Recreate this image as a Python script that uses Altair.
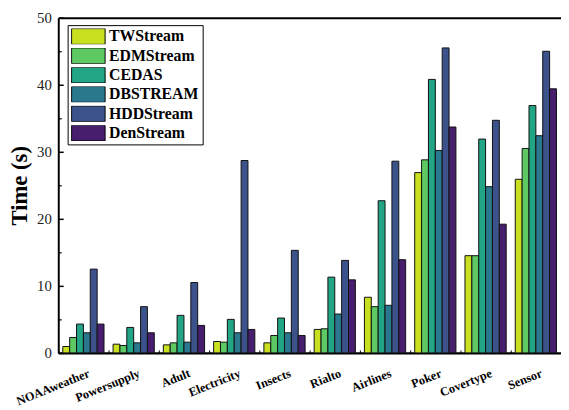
import altair as alt
import pandas as pd

datasets = ["NOAAweather", "Powersupply", "Adult", "Electricity", "Insects",
            "Rialto", "Airlines", "Poker", "Covertype", "Sensor"]
methods = ["TWStream", "EDMStream", "CEDAS", "DBSTREAM", "HDDStream", "DenStream"]

tw = [0.95, 1.3, 1.2, 1.7, 1.5, 3.5, 8.3, 26.9, 14.5, 25.9]
edm = [2.3, 1.1, 1.5, 1.6, 2.6, 3.6, 6.9, 28.8, 14.5, 30.5]
cedas = [4.3, 3.8, 5.6, 5.0, 5.2, 11.3, 22.7, 40.8, 31.9, 36.9]
dbs = [3.0, 1.5, 1.6, 3.0, 3.0, 5.8, 7.1, 30.2, 24.8, 32.4]
hdd = [12.5, 6.9, 10.5, 28.7, 15.3, 13.8, 28.6, 45.5, 34.7, 45.0]
den = [4.3, 3.0, 4.1, 3.5, 2.6, 10.9, 13.9, 33.7, 19.2, 39.4]

colors = ["#c8e020", "#5ec962", "#21a585", "#2a788e", "#3b528b", "#471d6e"]

major_ticks = [0, 10, 20, 30, 40, 50]
minor_ticks = [5, 15, 25, 35, 45]

series = [tw, edm, cedas, dbs, hdd, den]
rows = []
for m, vals in zip(methods, series):
    for d, v in zip(datasets, vals):
        rows.append({"dataset": d, "method": m, "time": v})
df = pd.DataFrame(rows)

FONT = "Liberation Serif"
xscale = alt.Scale(paddingInner=0.18, paddingOuter=0.09)
yscale = alt.Scale(domain=[0, 50], nice=False)

base = alt.Chart(df)

bars = base.mark_bar(stroke="#111111", strokeWidth=1).encode(
    x=alt.X("dataset:N", sort=datasets, scale=xscale,
            axis=alt.Axis(orient="bottom", title=None, labelAngle=-22,
                          labelAlign="right", labelBaseline="top",
                          labelFont=FONT, labelFontWeight="bold",
                          labelFontSize=12.5, labelColor="black",
                          labelPadding=14, labelOffset=3.5, ticks=False,
                          domainColor="black", domainWidth=2.5,
                          labelOverlap=False, grid=False)),
    xOffset=alt.XOffset("method:N", sort=methods),
    y=alt.Y("time:Q", scale=yscale,
            axis=alt.Axis(orient="left", title="Time (s)", values=major_ticks,
                          ticks=False, labelPadding=7, labelFont=FONT,
                          labelFontSize=15, labelColor="#222222",
                          titleFont=FONT, titleFontSize=23,
                          titleFontWeight="bold", titleColor="black",
                          titlePadding=5,
                          domainColor="black", domainWidth=2, grid=False)),
    color=alt.Color("method:N", sort=methods,
                    scale=alt.Scale(domain=methods, range=colors),
                    legend=alt.Legend(
                        title=None, orient="none", legendX=9.5, legendY=7.5,
                        symbolType="M-1,-0.47L1,-0.47L1,0.47L-1,0.47Z",
                        symbolSize=1156, symbolStrokeColor="black",
                        symbolStrokeWidth=1, symbolOpacity=1,
                        clipHeight=16, rowPadding=3.6,
                        labelFont=FONT, labelFontSize=16,
                        labelFontWeight="bold", labelColor="black",
                        labelOffset=3.5, padding=3.5,
                        strokeColor="black",
                        fillColor="white")),
)

tick_layer = base.mark_bar(opacity=0).encode(
    x=alt.X("dataset:N", sort=datasets, scale=xscale,
            axis=alt.Axis(orient="bottom", title=None, labels=False,
                          domain=False, ticks=True, tickSize=3, offset=-3,
                          bandPosition=0, tickOffset=-4.6,
                          tickColor="black", tickWidth=1, grid=False)),
    xOffset=alt.XOffset("method:N", sort=methods),
    y=alt.Y("time:Q", scale=yscale,
            axis=alt.Axis(orient="left", title=None, labels=False,
                          domain=False, values=major_ticks, tickSize=5,
                          offset=-5, tickColor="black", tickWidth=1.5,
                          grid=False)),
)

minor_layer = base.mark_bar(opacity=0).encode(
    x=alt.X("dataset:N", sort=datasets, scale=xscale,
            axis=alt.Axis(orient="top", title=None, labels=False,
                          ticks=False, domainColor="black", domainWidth=2,
                          grid=False)),
    xOffset=alt.XOffset("method:N", sort=methods),
    y=alt.Y("time:Q", scale=yscale,
            axis=alt.Axis(orient="left", title=None, labels=False,
                          domain=False, values=minor_ticks, tickSize=3,
                          offset=-3, tickColor="black", tickWidth=1.2,
                          grid=False)),
)

chart = alt.layer(bars, tick_layer, minor_layer).resolve_axis(
    x="independent", y="independent"
).properties(
    width=510, height=340,
    autosize=alt.AutoSizeParams(type="none"),
    padding={"left": 51, "top": 7, "right": 0, "bottom": 52},
).configure_view(stroke=None)

chart.save("out.html", embed_options={"renderer": "svg", "actions": False})
